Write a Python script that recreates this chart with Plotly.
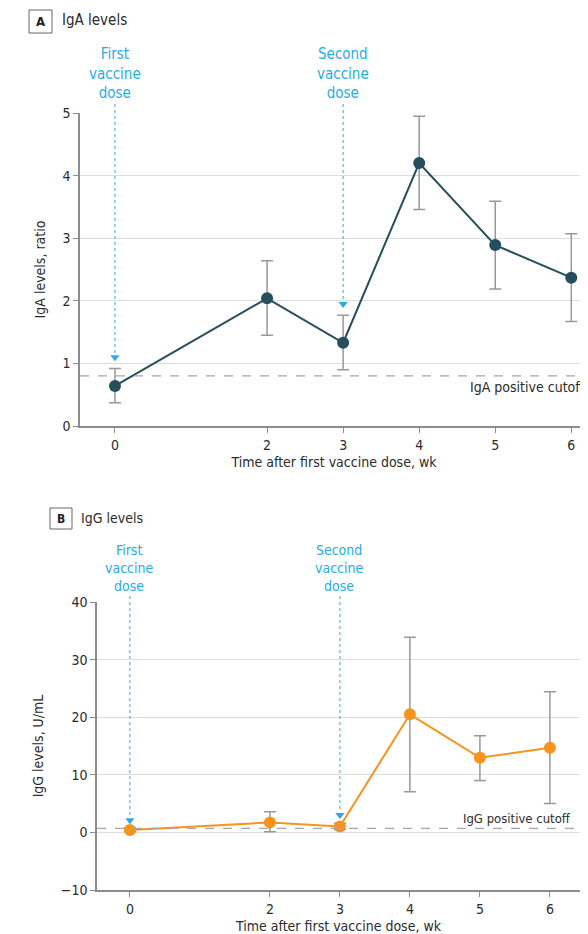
import plotly.graph_objects as go

# ---- data ----
weeks = [0, 2, 3, 4, 5, 6]
iga_mean = [0.64, 2.04, 1.33, 4.20, 2.89, 2.37]
iga_upper = [0.92, 2.64, 1.77, 4.95, 3.59, 3.07]
iga_lower = [0.37, 1.45, 0.90, 3.46, 2.19, 1.67]
iga_cutoff = 0.8

igg_mean = [0.4, 1.74, 1.04, 20.5, 12.95, 14.7]
igg_upper = [0.8, 3.6, 1.6, 33.9, 16.8, 24.4]
igg_lower = [0.1, 0.1, 0.5, 7.05, 9.0, 5.0]
igg_cutoff = 0.7

x_ticks = [0, 2, 3, 4, 5, 6]
iga_yticks = [0, 1, 2, 3, 4, 5]
igg_yticks = [-10, 0, 10, 20, 30, 40]

dose_weeks = [0, 3]
dose_labels = ["First<br>vaccine<br>dose", "Second<br>vaccine<br>dose"]
iga_arrow_tips = [1.10, 1.95]
igg_arrow_tips = [2.1, 3.0]

OFF = 8  # page body margin
W, H = 588 - OFF, 934 - OFF
FONT = "Liberation Sans Narrow, DejaVu Sans Condensed, Arial Narrow, sans-serif"
BLUE = "#29ABE2"
TEAL = "#264E5C"
ORANGE = "#F7931E"
TXT = "#2B2B2B"
GRID = "#DDDDDD"
AX = "#8C8C8C"
ERR = "#999999"


def px(p):
    return (p - OFF) / W


def py(p):
    return 1 - (p - OFF) / H


fig = go.Figure()

# Panel A
fig.add_trace(go.Scatter(
    x=weeks, y=iga_mean, mode="lines+markers",
    line=dict(color=TEAL, width=2),
    marker=dict(color=TEAL, size=12),
    error_y=dict(type="data", symmetric=False,
                 array=[u - m for u, m in zip(iga_upper, iga_mean)],
                 arrayminus=[m - l for m, l in zip(iga_mean, iga_lower)],
                 color=ERR, thickness=1.5, width=6),
    xaxis="x", yaxis="y", showlegend=False, cliponaxis=False))
fig.add_trace(go.Scatter(
    x=dose_weeks, y=iga_arrow_tips, mode="markers",
    marker=dict(symbol="triangle-down", color=BLUE, size=8),
    xaxis="x", yaxis="y", showlegend=False, cliponaxis=False))

# Panel B
fig.add_trace(go.Scatter(
    x=weeks, y=igg_mean, mode="lines+markers",
    line=dict(color=ORANGE, width=2),
    marker=dict(color=ORANGE, size=12),
    error_y=dict(type="data", symmetric=False,
                 array=[u - m for u, m in zip(igg_upper, igg_mean)],
                 arrayminus=[m - l for m, l in zip(igg_mean, igg_lower)],
                 color=ERR, thickness=1.5, width=6),
    xaxis="x2", yaxis="y2", showlegend=False, cliponaxis=False))
fig.add_trace(go.Scatter(
    x=dose_weeks, y=igg_arrow_tips, mode="markers",
    marker=dict(symbol="triangle-down", color=BLUE, size=8),
    xaxis="x2", yaxis="y2", showlegend=False, cliponaxis=False))

axis_common = dict(showline=True, linecolor=AX, linewidth=1.5, ticks="outside",
                   ticklen=5, tickcolor=AX, tickfont=dict(family=FONT, size=14, color=TXT),
                   zeroline=False, fixedrange=True, automargin=False)

fig.update_layout(
    width=W, height=H,
    margin=dict(l=0, r=0, t=0, b=0, pad=0),
    paper_bgcolor="white", plot_bgcolor="white",
    font=dict(family=FONT, color=TXT, size=14),
    xaxis=dict(domain=[px(80), 1.0], range=[-0.46, 6.22], tickvals=x_ticks,
               showgrid=False, anchor="y",
               title=dict(text="Time after first vaccine dose, wk", standoff=6,
                          font=dict(family=FONT, size=14, color=TXT)),
               **axis_common),
    yaxis=dict(domain=[py(426), py(113)], range=[0, 5], tickvals=iga_yticks,
               showgrid=True, gridcolor=GRID, gridwidth=1.2, anchor="x",
               title=dict(text="IgA levels, ratio", standoff=14,
                          font=dict(family=FONT, size=14, color=TXT)),
               **axis_common),
    xaxis2=dict(domain=[px(97), px(580)], range=[-0.47, 6.43], tickvals=x_ticks,
                showgrid=False, anchor="y2",
                title=dict(text="Time after first vaccine dose, wk", standoff=6,
                           font=dict(family=FONT, size=14, color=TXT)),
                **axis_common),
    yaxis2=dict(domain=[py(890), py(602)], range=[-10, 40], tickvals=igg_yticks,
                showgrid=True, gridcolor=GRID, gridwidth=1.2, anchor="x2",
                title=dict(text="IgG levels, U/mL", standoff=14,
                           font=dict(family=FONT, size=14, color=TXT)),
                **axis_common),
)

shapes = []
# cutoff lines
shapes.append(dict(type="line", xref="x domain", yref="y", x0=0, x1=1,
                   y0=iga_cutoff, y1=iga_cutoff, line=dict(color="#A6A6A6", width=1.3, dash="dash"), layer="above"))
shapes.append(dict(type="line", xref="x2 domain", yref="y2", x0=0, x1=1,
                   y0=igg_cutoff, y1=igg_cutoff, line=dict(color="#A6A6A6", width=1.3, dash="dash"), layer="above"))
# dotted dose lines
for wk, tip in zip(dose_weeks, iga_arrow_tips):
    shapes.append(dict(type="line", xref="x", yref="paper", x0=wk, x1=wk,
                       y0=py(104), y1=py(426 - tip * 62.6 - 4),
                       line=dict(color=BLUE, width=1, dash="dot")))
for wk, tip in zip(dose_weeks, igg_arrow_tips):
    shapes.append(dict(type="line", xref="x2", yref="paper", x0=wk, x1=wk,
                       y0=py(596), y1=py(832.3 - tip * 5.76 - 4),
                       line=dict(color=BLUE, width=1, dash="dot")))
# panel label boxes
shapes.append(dict(type="rect", xref="paper", yref="paper", x0=px(29), x1=px(52),
                   y0=py(33), y1=py(10), line=dict(color="#666666", width=1)))
shapes.append(dict(type="rect", xref="paper", yref="paper", x0=px(50), x1=px(72),
                   y0=py(529), y1=py(508), line=dict(color="#666666", width=1)))
fig.update_layout(shapes=shapes)

ann = []
for wk, lab in zip(dose_weeks, dose_labels):
    ann.append(dict(x=wk, xref="x", y=py(104), yref="paper", text=lab, showarrow=False,
                    xanchor="center", yanchor="bottom", align="center",
                    font=dict(family=FONT, size=15, color=BLUE)))
    ann.append(dict(x=wk, xref="x2", y=py(596), yref="paper", text=lab, showarrow=False,
                    xanchor="center", yanchor="bottom", align="center",
                    font=dict(family=FONT, size=14, color=BLUE)))
ann.append(dict(x=px(468), xref="paper", y=iga_cutoff, yref="y", text="IgA positive cutoff",
                showarrow=False, xanchor="left", yanchor="top", yshift=-1,
                font=dict(family=FONT, size=14, color=TXT)))
ann.append(dict(x=px(573), xref="paper", y=igg_cutoff, yref="y2", text="IgG positive cutoff",
                showarrow=False, xanchor="right", yanchor="bottom", yshift=0,
                font=dict(family=FONT, size=13, color=TXT)))
ann.append(dict(x=px(40.5), xref="paper", y=py(21.5), yref="paper", text="<b>A</b>",
                showarrow=False, xanchor="center", yanchor="middle",
                font=dict(family=FONT, size=13, color="#222222")))
ann.append(dict(x=px(60), xref="paper", y=py(20), yref="paper", text="IgA levels",
                showarrow=False, xanchor="left", yanchor="middle",
                font=dict(family=FONT, size=15, color=TXT)))
ann.append(dict(x=px(61), xref="paper", y=py(518.5), yref="paper", text="<b>B</b>",
                showarrow=False, xanchor="center", yanchor="middle",
                font=dict(family=FONT, size=12, color="#222222")))
ann.append(dict(x=px(79), xref="paper", y=py(518), yref="paper", text="IgG levels",
                showarrow=False, xanchor="left", yanchor="middle",
                font=dict(family=FONT, size=14, color=TXT)))
fig.update_layout(annotations=ann)

fig.write_html("out.html")
